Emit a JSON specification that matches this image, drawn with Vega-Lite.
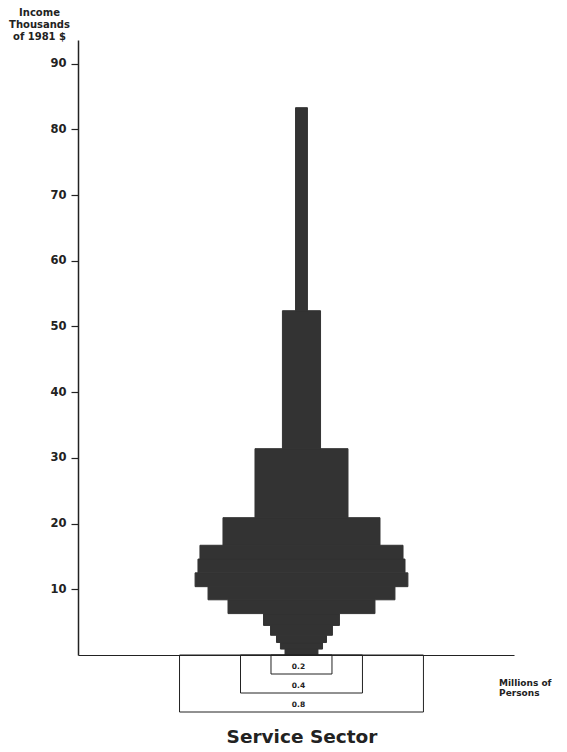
{
  "$schema": "https://vega.github.io/schema/vega-lite/v6.json",
  "padding": {"left": 8, "top": 7, "right": 0, "bottom": 5},
  "spacing": 0,
  "bounds": "flush",
  "config": {
    "view": {"stroke": null},
    "font": "DejaVu Sans",
    "axis": {"grid": false}
  },
  "title": {"text": "Service Sector", "orient": "bottom", "anchor": "middle", "frame": "group", "dx": 6, "fontSize": 18.5, "fontWeight": "bold", "font": "DejaVu Sans", "color": "#222222", "offset": 15},
  "vconcat": [
    {
      "width": 436,
      "height": 615,
      "data": {"values": [
        {"lo": 0, "hi": 0.9, "persons": 0.108},
        {"lo": 0.9, "hi": 1.9, "persons": 0.138},
        {"lo": 1.9, "hi": 3.0, "persons": 0.164},
        {"lo": 3.0, "hi": 4.5, "persons": 0.203},
        {"lo": 4.5, "hi": 6.3, "persons": 0.249},
        {"lo": 6.3, "hi": 8.4, "persons": 0.482},
        {"lo": 8.4, "hi": 10.4, "persons": 0.613},
        {"lo": 10.4, "hi": 12.5, "persons": 0.698},
        {"lo": 12.5, "hi": 14.6, "persons": 0.679},
        {"lo": 14.6, "hi": 16.7, "persons": 0.666},
        {"lo": 16.7, "hi": 20.9, "persons": 0.515},
        {"lo": 20.9, "hi": 31.4, "persons": 0.305},
        {"lo": 31.4, "hi": 52.4, "persons": 0.125},
        {"lo": 52.4, "hi": 83.3, "persons": 0.039}
      ]},
      "mark": {"type": "bar", "orient": "horizontal", "color": "#333333", "stroke": "#333333", "strokeWidth": 1},
      "encoding": {
        "x": {
          "field": "persons", "type": "quantitative", "stack": "center",
          "scale": {"domain": [-0.384, 1.046], "nice": false, "zero": false, "padding": 0},
          "axis": {"domain": true, "domainColor": "#222222", "domainWidth": 1.2, "ticks": false, "labels": false, "title": null}
        },
        "y": {
          "field": "lo", "type": "quantitative",
          "scale": {"domain": [0, 93.6], "nice": false, "padding": 0},
          "axis": {
            "values": [10, 20, 30, 40, 50, 60, 70, 80, 90],
            "tickSize": 7, "tickWidth": 1.2, "tickColor": "#222222",
            "labelPadding": 5, "labelFontSize": 11.5, "labelFontWeight": "bold", "labelColor": "#222222", "labelFont": "DejaVu Sans",
            "domainColor": "#222222", "domainWidth": 1.5,
            "title": ["Income", "Thousands", "of 1981 $"],
            "titleAngle": 0, "titleX": -39, "titleY": -33, "titleAlign": "center", "titleBaseline": "top",
            "titleFontSize": 10, "titleFontWeight": "bold", "titleLineHeight": 12, "titleColor": "#222222", "titleFont": "DejaVu Sans"
          }
        },
        "y2": {"field": "hi"}
      }
    },
    {
      "width": 436,
      "height": 57,
      "data": {"values": [
        {"size": 0.2, "level": 1},
        {"size": 0.4, "level": 2},
        {"size": 0.8, "level": 3}
      ]},
      "layer": [
        {
          "mark": {"type": "bar", "orient": "horizontal", "filled": false, "stroke": "#222222", "strokeWidth": 1},
          "encoding": {
            "x": {"field": "size", "type": "quantitative", "stack": "center", "scale": {"domain": [-0.333, 1.097], "nice": false, "zero": false, "padding": 0}, "axis": null},
            "y": {"field": "level", "type": "quantitative", "scale": {"domain": [0, 3], "reverse": true, "nice": false, "padding": 0}, "axis": null},
            "y2": {"datum": 0}
          }
        },
        {
          "mark": {"type": "text", "baseline": "middle", "dy": -7, "dx": -3, "fontSize": 7.5, "fontWeight": "bold", "color": "#222222"},
          "encoding": {
            "x": {"datum": 0.4, "type": "quantitative"},
            "y": {"field": "level", "type": "quantitative"},
            "text": {"field": "size", "format": ".1f"}
          }
        },
        {
          "data": {"values": [{"label": "Millions of Persons"}]},
          "mark": {"type": "text", "align": "left", "baseline": "middle", "fontSize": 9, "fontWeight": "bold", "lineHeight": 10, "color": "#222222"},
          "encoding": {
            "x": {"datum": 1.048, "type": "quantitative"},
            "y": {"datum": 1.48, "type": "quantitative"},
            "text": {"value": ["Millions of", "Persons"]}
          }
        }
      ]
    }
  ]
}
